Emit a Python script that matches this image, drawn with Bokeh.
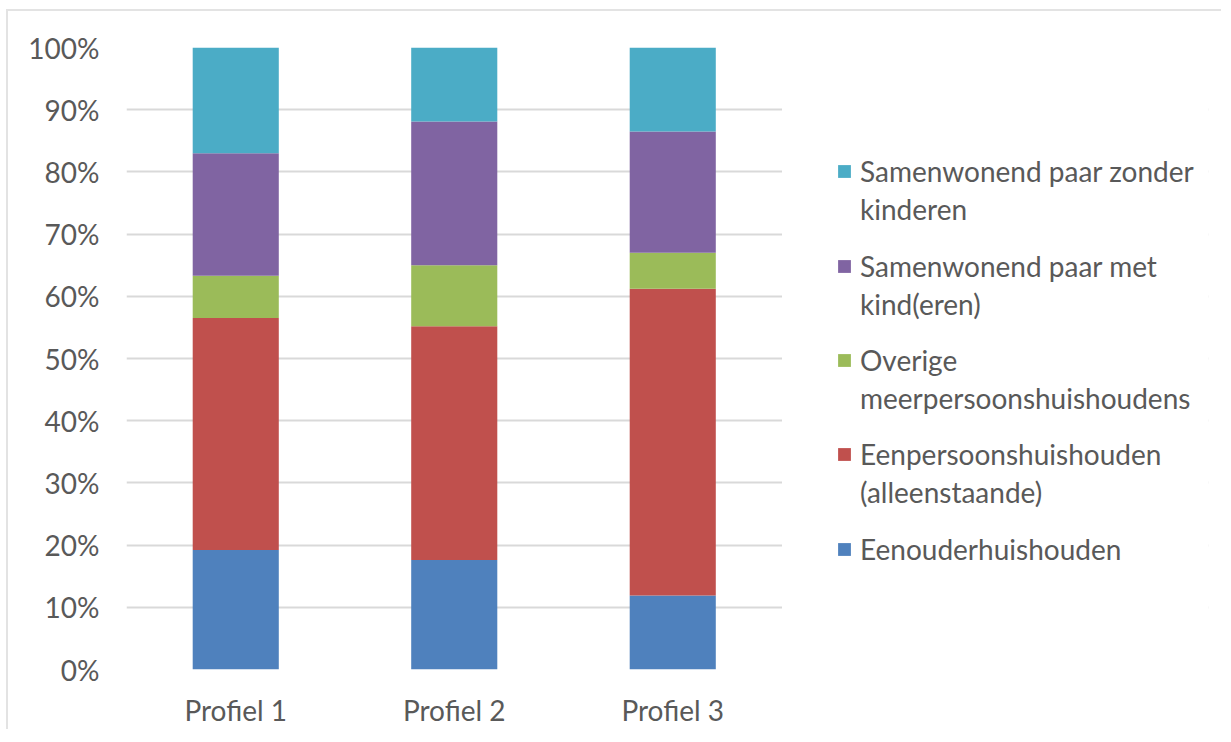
from bokeh.plotting import figure
from bokeh.models import (ColumnDataSource, Legend, LegendItem, NumeralTickFormatter,
                          FixedTicker, Range1d, BoxAnnotation)
from bokeh.embed import file_html
from bokeh.resources import INLINE

profiles = ["Profiel 1", "Profiel 2", "Profiel 3"]
series = ["eenouder", "eenpersoons", "overige", "met_kind", "zonder_kind"]
labels = {
    "eenouder": "Eenouderhuishouden",
    "eenpersoons": "Eenpersoonshuishouden\n(alleenstaande)",
    "overige": "Overige\nmeerpersoonshuishoudens",
    "met_kind": "Samenwonend paar met\nkind(eren)",
    "zonder_kind": "Samenwonend paar zonder\nkinderen",
}
eenouder = [0.192, 0.176, 0.119]
eenpersoons = [0.373, 0.376, 0.493]
overige = [0.068, 0.098, 0.058]
met_kind = [0.197, 0.231, 0.195]
zonder_kind = [0.170, 0.119, 0.135]
colors = ["#4F81BD", "#C0504D", "#9BBB59", "#8064A2", "#4BACC6"]

xpos = [i + 0.5 for i in range(len(profiles))]
data = dict(x=xpos, eenouder=eenouder, eenpersoons=eenpersoons,
            overige=overige, met_kind=met_kind, zonder_kind=zonder_kind)
source = ColumnDataSource(data)

TEXT = "#595959"
FONT = "Lato"
FS = "28px"

W, H = 1215, 720
MBL, MBR, MBT, MBB = 118, 15, 36, 62
CAT_PX = 218.5
frame_w = W - MBL - MBR
x_end = frame_w / CAT_PX

p = figure(x_range=Range1d(0, x_end), y_range=Range1d(0, 1), width=W, height=H,
           output_backend="svg", toolbar_location=None,
           min_border_left=MBL, min_border_right=MBR, min_border_top=MBT, min_border_bottom=MBB,
           styles={"margin-left": "6px", "margin-top": "9px",
                   "border-top": "2px solid #e3e3e3", "border-left": "2px solid #e3e3e3"})

p.ygrid.grid_line_color = "#d9d9d9"
p.ygrid.grid_line_width = 2
p.xgrid.grid_line_color = None
p.outline_line_color = None

renderers = p.vbar_stack(series, x="x", width=0.394, color=colors, source=source,
                         line_color=None)

# blank out the grid to the right of the bars (legend area)
p.add_layout(BoxAnnotation(left=len(profiles), fill_color="white", fill_alpha=1.0,
                           line_alpha=0))

p.yaxis.ticker = FixedTicker(ticks=[i / 10 for i in range(11)])
p.yaxis.formatter = NumeralTickFormatter(format="0%")
p.yaxis.axis_line_color = None
p.yaxis.major_tick_line_color = None
p.yaxis.minor_tick_line_color = None
p.yaxis.major_label_standoff = 21

p.xaxis.ticker = FixedTicker(ticks=xpos)
p.xaxis.major_label_overrides = {x: name for x, name in zip(xpos, profiles)}
p.xaxis.axis_line_color = None
p.xaxis.major_tick_line_color = None
p.xaxis.minor_tick_line_color = None
p.xaxis.major_label_standoff = 17
for ax in (p.xaxis, p.yaxis):
    ax.major_label_text_font = FONT
    ax.major_label_text_font_size = FS
    ax.major_label_text_color = TEXT

# legend: one block per series, top entry first, glyph aligned with first line
order = series[::-1]
first_line_px = 173.0 - 48.0   # from frame top to first legend line centre
step_px = 94.3
frame_h = H - MBT - MBB
line_h = 28 * 1.2
item_spacing = 4
for k, s in enumerate(order):
    r = renderers[series.index(s)]
    lines = labels[s].split("\n")
    items = [LegendItem(label=lines[0], renderers=[r])]
    for extra in lines[1:]:
        items.append(LegendItem(label=extra, renderers=[]))
    n = len(lines)
    leg_h = n * line_h + (n - 1) * item_spacing
    top = first_line_px + k * step_px - line_h / 2
    vy = int(round(frame_h - top - leg_h))
    leg = Legend(items=items, location=(710, vy), orientation="vertical",
                 label_text_font=FONT, label_text_font_size=FS, label_text_color=TEXT,
                 glyph_width=16, glyph_height=16, label_standoff=8, spacing=item_spacing,
                 padding=0, margin=0, border_line_color=None, background_fill_alpha=0)
    p.add_layout(leg, "center")

open("out.html", "w").write(file_html(p, INLINE))
